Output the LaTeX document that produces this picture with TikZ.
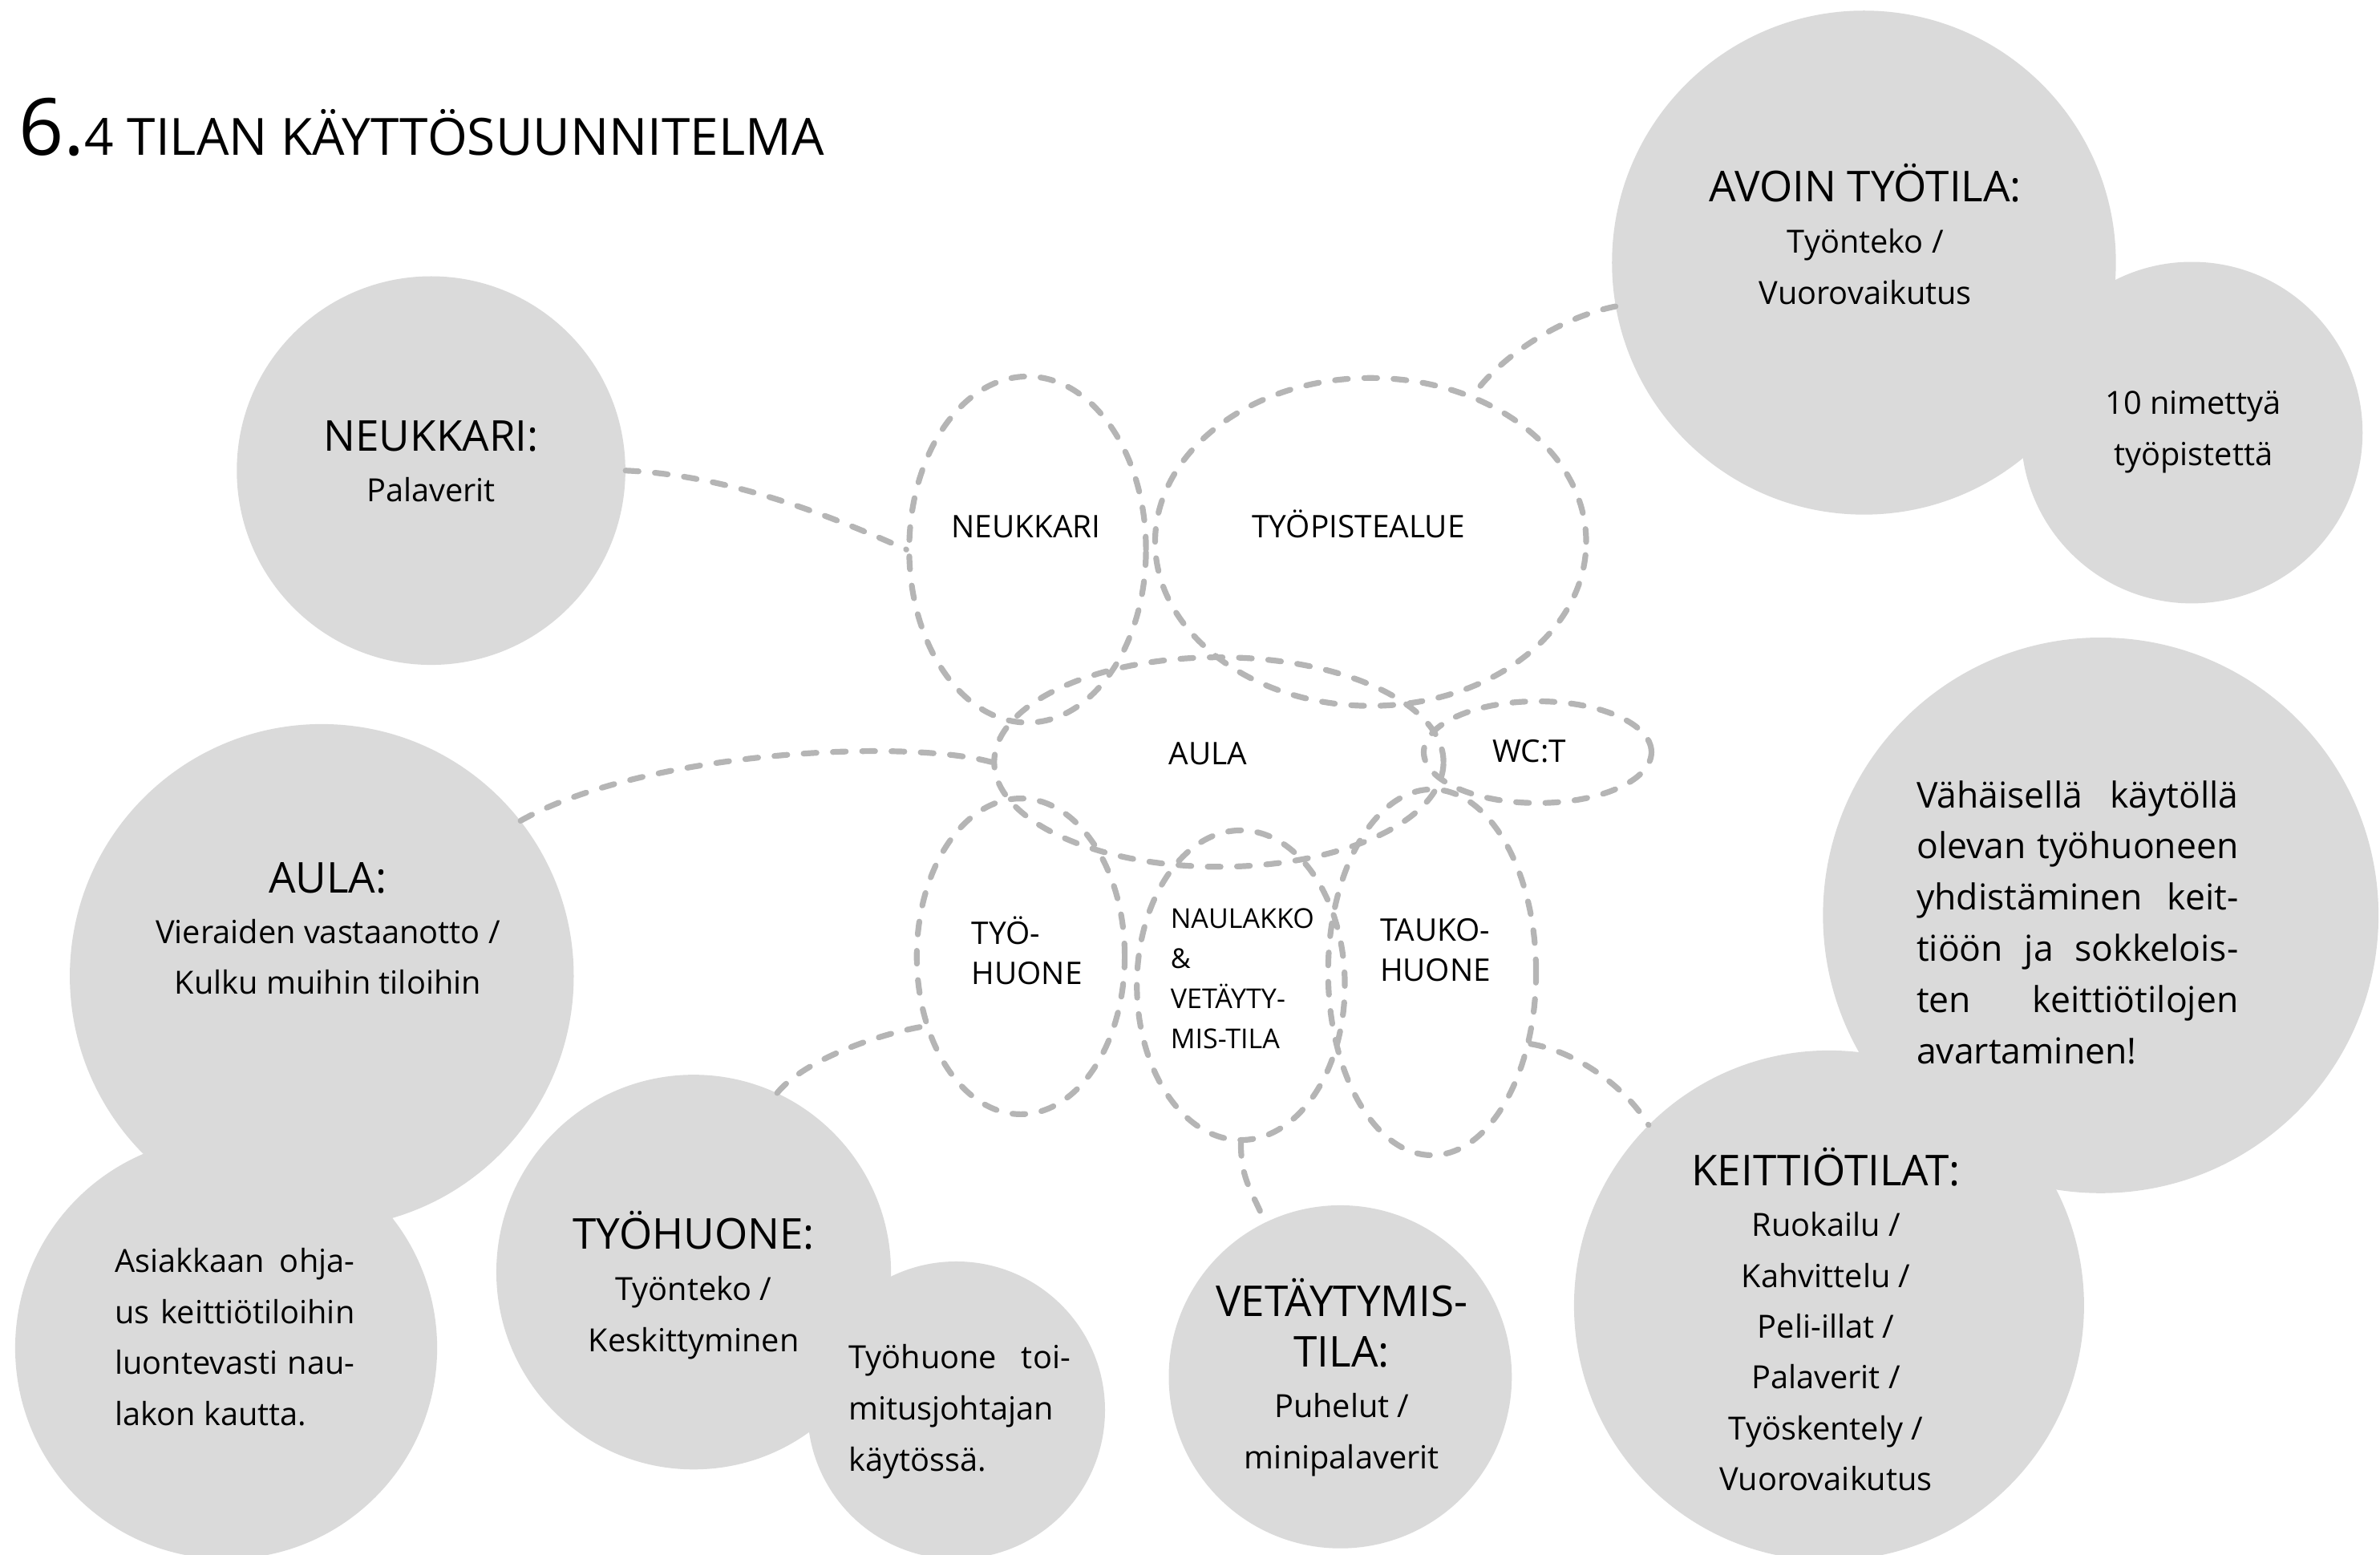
\documentclass[tikz,border=0pt]{standalone}
\usepackage{fontspec}
\setmainfont{Open Sans}
\usepackage{tikz}
\usetikzlibrary{positioning, shapes.geometric}

\definecolor{blobgrey}{RGB}{218,218,218}
\definecolor{dashgrey}{RGB}{181,181,181}

\newcommand{\hdfont}{\fontsize{28}{33.7}\selectfont}
\newcommand{\bdfont}{\fontsize{21}{33.7}\selectfont}
\newcommand{\bgfont}{\fontsize{23.5}{33.8}\selectfont}
\newcommand{\lbfont}{\fontsize{20.5}{26.5}\selectfont}
\newcommand{\smlbfont}{\fontsize{18}{26.5}\selectfont}
\newcommand{\cblok}[2]{\vtop{\baselineskip=#1\lineskiplimit=-\maxdimen\halign{\hfil##\hfil\cr#2\crcr}}}
\newcommand{\lblok}[2]{\vtop{\baselineskip=#1\lineskiplimit=-\maxdimen\halign{##\hfil\cr#2\crcr}}}

\tikzset{
  blob/.style={circle, fill=blobgrey, inner sep=0pt},
  zone/.style={ellipse, draw=dashgrey, line width=3.8pt, dash pattern=on 8.5pt off 10.8pt, line cap=round, inner sep=0pt},
  link/.style={draw=dashgrey, line width=3.8pt, dash pattern=on 8.5pt off 10.8pt, line cap=round},
  txt/.style={inner sep=0pt, anchor=base},
  ltxt/.style={inner sep=0pt, anchor=base west}
}

\begin{document}
\begin{tikzpicture}[x=1pt, y=-1pt]
\useasboundingbox (0,0) rectangle (1568,1024);

\node[ltxt] (title) at (12,102) {{\fontsize{52}{52}\selectfont 6.}\fontsize{33.8}{40}\selectfont 4 TILAN KÄYTTÖSUUNNITELMA};

\node[blob, minimum size=332pt] (avoin) at (1228,173) {};
\node[blob, minimum size=225pt] (nimetty) at (1444,285) {};
\node[blob, minimum size=256pt] (neukkari) at (284,310) {};
\node[blob, minimum size=332pt] (aula) at (212,643) {};
\node[blob, minimum size=278pt] (asiakas) at (149,888) {};
\node[blob, minimum size=260pt] (tyohuone) at (457,838) {};
\node[blob, minimum size=196pt] (toimitus) at (630,929) {};
\node[blob, minimum size=226pt] (vetaytyminen) at (883,907) {};
\node[blob, minimum size=366pt] (vahainen) at (1384,603) {};
\node[blob, minimum size=336pt] (keittio) at (1205,860) {};

\node[txt] (avoin-t) at (1229,133) {\bdfont\cblok{33.7pt}{\hdfont AVOIN TYÖTILA:\cr Työnteko /\cr Vuorovaikutus}};
\node[txt] (nimetty-t) at (1445,273) {\bdfont\cblok{33.5pt}{10 nimettyä\cr työpistettä}};
\node[txt] (neukkari-t) at (284,297) {\bdfont\cblok{33.7pt}{\hdfont NEUKKARI:\cr Palaverit}};
\node[txt] (aula-t) at (216,588) {\bdfont\cblok{33.5pt}{\hdfont AULA:\cr Vieraiden vastaanotto /\cr Kulku muihin tiloihin}};
\node[ltxt] (asiakas-t) at (75.5,838) {\bdfont\lblok{33.7pt}{\makebox[158pt][s]{Asiakkaan ohja-}\cr \makebox[158pt][s]{us keittiötiloihin}\cr \makebox[158pt][s]{luontevasti nau-}\cr lakon kautta.}};
\node[txt] (tyohuone-t) at (457,823) {\bdfont\cblok{33.7pt}{\hdfont TYÖHUONE:\cr Työnteko /\cr Keskittyminen}};
\node[ltxt] (toimitus-t) at (559,901.6) {\bdfont\lblok{33.7pt}{\makebox[146pt][s]{Työhuone toi-}\cr mitusjohtajan\cr käytössä.}};
\node[txt] (vetaytyminen-t) at (884,867) {\bdfont\cblok{33.5pt}{\hdfont VETÄYTYMIS-\cr \hdfont TILA:\cr Puhelut /\cr minipalaverit}};
\node[txt] (keittio-t) at (1203,781) {\bdfont\cblok{33.5pt}{\hdfont KEITTIÖTILAT:\cr Ruokailu /\cr Kahvittelu /\cr Peli-illat /\cr Palaverit /\cr Työskentely /\cr Vuorovaikutus}};
\node[ltxt] (vahainen-t) at (1262.5,532) {\bgfont\lblok{33.8pt}{\makebox[212pt][s]{Vähäisellä käytöllä}\cr \makebox[212pt][s]{olevan työhuoneen}\cr \makebox[212pt][s]{yhdistäminen keit-}\cr \makebox[212pt][s]{tiöön ja sokkelois-}\cr \makebox[212pt][s]{ten keittiötilojen}\cr avartaminen!}};

\node[zone, minimum width=156pt, minimum height=228pt] (neukkari-e) at (677,362) {};
\node[zone, minimum width=284pt, minimum height=216pt] (tyopiste-e) at (903,357) {};
\node[zone, minimum width=296pt, minimum height=138pt] (aula-e) at (803,502) {};
\node[zone, minimum width=150pt, minimum height=67pt] (wc-e) at (1013,495.5) {};
\node[zone, minimum width=137pt, minimum height=208pt] (tyohuone-e) at (672.5,630) {};
\node[zone, minimum width=137pt, minimum height=204pt] (naulakko-e) at (817.5,649) {};
\node[zone, minimum width=137pt, minimum height=241pt] (tauko-e) at (943.5,640.5) {};

\node[txt, font=\lbfont] (neukkari-l) at (676,354) {NEUKKARI};
\node[txt, font=\lbfont] (tyopiste-l) at (895,354) {TYÖPISTEALUE};
\node[txt, font=\lbfont] (aula-l) at (796,503.5) {AULA};
\node[txt, font=\lbfont] (wc-l) at (1007.5,502) {WC:T};
\node[ltxt, font=\lbfont] (tyohuone-l) at (640,622) {\lblok{26.5pt}{TYÖ-\cr HUONE}};
\node[ltxt, font=\smlbfont] (naulakko-l) at (771,611.5) {\lblok{26.5pt}{NAULAKKO\cr \&\cr VETÄYTY-\cr MIS-TILA}};
\node[ltxt, font=\lbfont] (tauko-l) at (909,620) {\lblok{26.5pt}{TAUKO-\cr HUONE}};

\draw[link] (neukkari.east) .. controls +(70,3) and +(-45,-20) .. (neukkari-e.west);
\draw[link] (avoin.190) .. controls +(-40,8) and +(15,-22) .. (tyopiste-e.55);
\draw[link] (aula.38) .. controls +(80,-45) and +(-60,-16) .. (aula-e.west);
\draw[link] (tyohuone.65) .. controls +(18,-22) and +(-30,5) .. (tyohuone-e.216);
\draw[link] (naulakko-e.south) .. controls +(0,25) and +(-8,-20) .. (vetaytyminen.116);
\draw[link] (tauko-e.-36) .. controls +(30,5) and +(-15,-25) .. (keittio.135);
\end{tikzpicture}
\end{document}
